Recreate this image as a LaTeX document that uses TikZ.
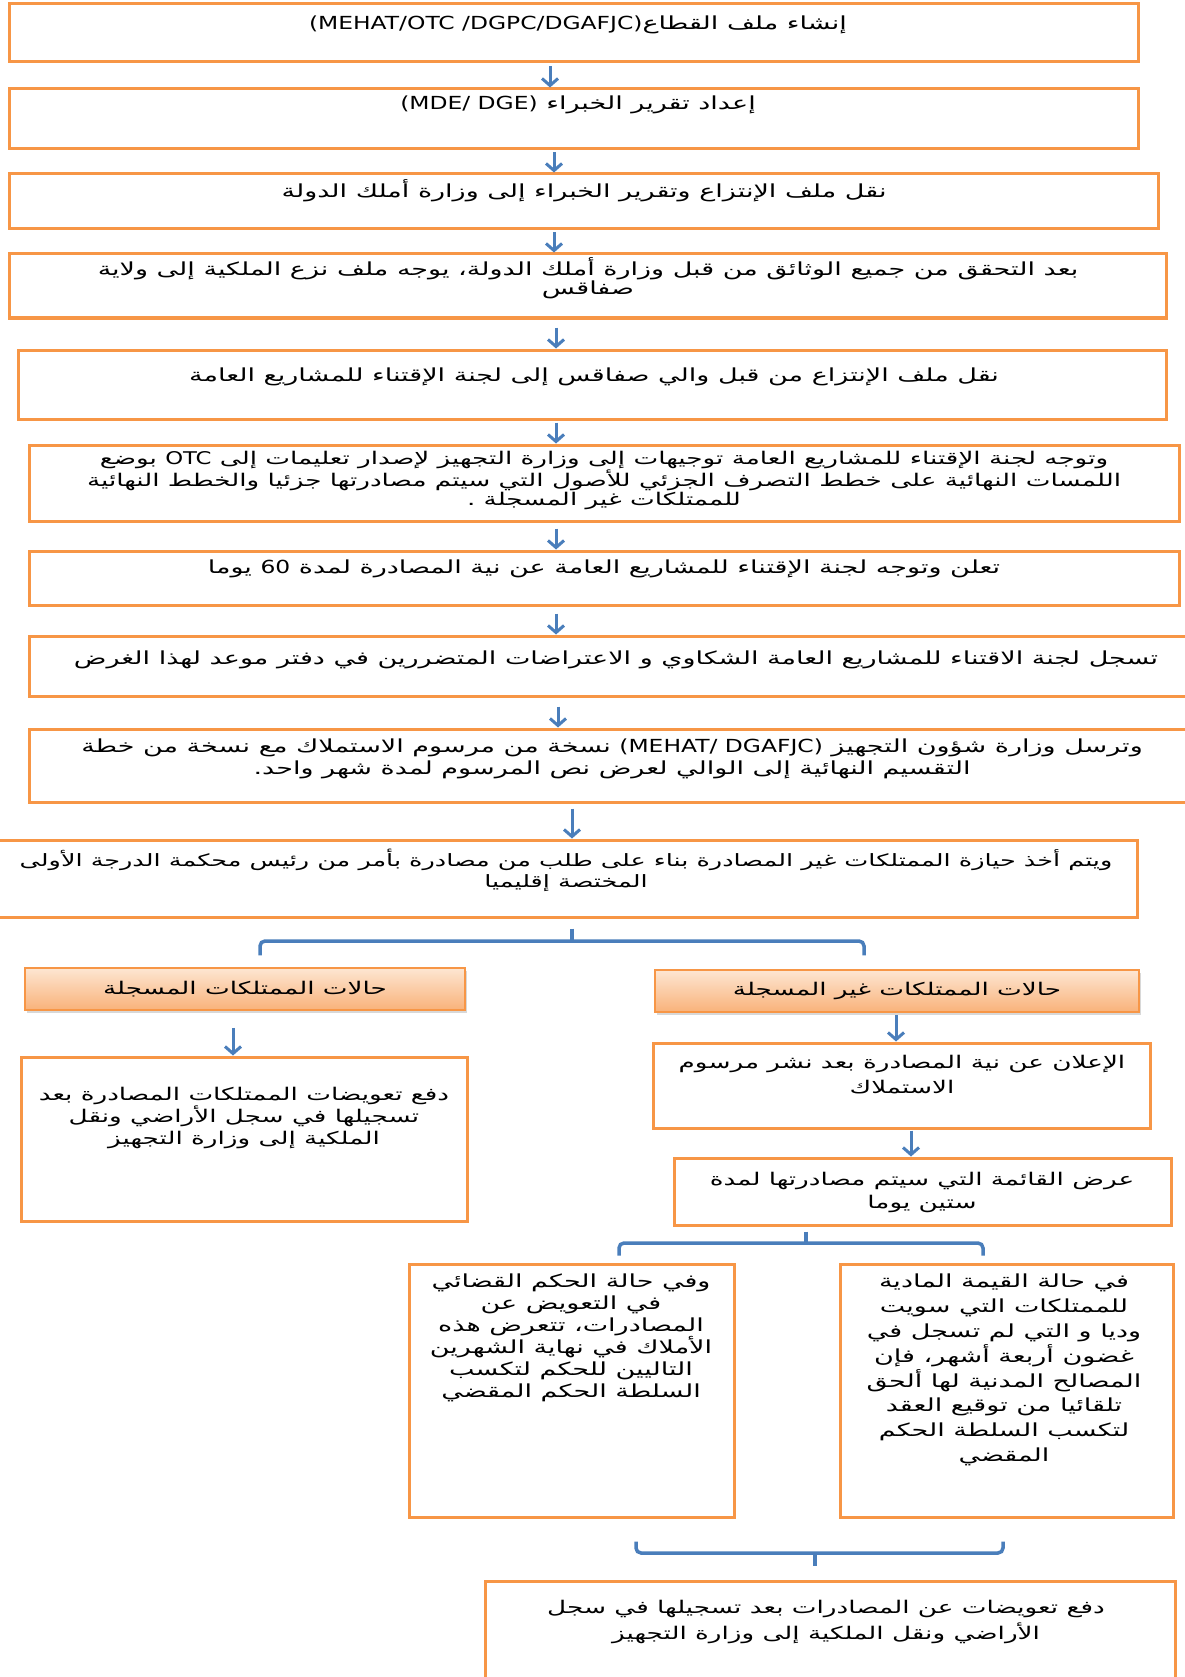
\documentclass[tikz,border=0pt]{standalone}
\usepackage{fontspec}
\TeXXeTstate=1
\newfontfamily\arabicfont[Script=Arabic,FakeStretch=1.5]{DejaVu Sans}
\newfontfamily\latfont[FakeStretch=1.3]{DejaVu Sans}
\usetikzlibrary{arrows.meta,shadows}
\definecolor{orng}{HTML}{F79646}
\definecolor{blu}{HTML}{4A7EBB}
\definecolor{hdtop}{HTML}{FDE6D2}
\definecolor{hdbot}{HTML}{F9B27A}
\newcommand\arl[1]{\beginR #1\endR}
\newcommand\lat[1]{\beginL{\latfont #1}\endL}
\begin{document}
\begin{tikzpicture}[x=1pt,y=-1pt,
  box/.style={draw=orng, line width=3pt, rectangle, inner sep=0pt},
  hdr/.style={draw=orng, line width=1.5pt, rectangle, top color=hdtop, bottom color=hdbot, inner sep=0pt,
     drop shadow={shadow xshift=2pt,shadow yshift=-3pt,opacity=0.3}},
  tx/.style={font=\arabicfont\fontsize{18}{19.5}\selectfont, align=center, inner sep=0pt, text=black},
  txb/.style={font=\arabicfont\fontsize{17.5}{22}\selectfont, align=center, inner sep=0pt, text=black},
  arr/.style={draw=blu, line width=3pt, -{Straight Barb[length=7pt,width=16pt]}},
  brc/.style={draw=blu, line width=3.5pt, rounded corners=5pt}]
\fill[white] (0,0) rectangle (1184,1677);
\useasboundingbox (0,0) rectangle (1184,1677);

% main column boxes
\node[box, minimum width=1129pt, minimum height=58pt] (b1) at (573.5,33) {};
\node[box, minimum width=1129pt, minimum height=60pt] (b2) at (573.5,119) {};
\node[box, minimum width=1149pt, minimum height=55pt] (b3) at (583.5,201.5) {};
\node[box, minimum width=1157pt, minimum height=64pt] (b4) at (587.5,286) {};
\node[box, minimum width=1148pt, minimum height=69pt] (b5) at (592,384.5) {};
\node[box, minimum width=1150pt, minimum height=76pt] (b6) at (604,483) {};
\node[box, minimum width=1150pt, minimum height=54pt] (b7) at (604,578) {};
\node[box, minimum width=1166pt, minimum height=60pt] (b8) at (612,666) {};
\node[box, minimum width=1166pt, minimum height=73pt] (b9) at (612,765.5) {};
\node[box, minimum width=1140pt, minimum height=77pt] (b10) at (567,878.5) {};

% texts of main column
\node[tx] (t1) at (578,25) {\arl{إنشاء ملف القطاع\lat{(MEHAT/OTC /DGPC/DGAFJC)}}};
\node[tx] (t2) at (578,105) {\arl{إعداد تقرير الخبراء \lat{(MDE/ DGE)}}};
\node[tx] (t3) at (584,191) {\arl{نقل ملف الإنتزاع وتقرير الخبراء إلى وزارة أملك الدولة}};
\node[tx] (t4) at (588,278) {\arl{بعد التحقق من جميع الوثائق  من قبل وزارة أملك الدولة، يوجه ملف نزع الملكية إلى ولاية}\\\arl{صفاقس}};
\node[tx] (t5) at (594,377) {\arl{نقل ملف الإنتزاع من قبل والي صفاقس إلى لجنة الإقتناء للمشاريع العامة}};
\node[tx, font=\arabicfont\fontsize{17.5}{19}\selectfont] (t6) at (604,480) {\arl{وتوجه لجنة الإقتناء للمشاريع العامة توجيهات إلى وزارة التجهيز لإصدار تعليمات إلى \lat{OTC}{} بوضع}\\\arl{اللمسات النهائية على خطط التصرف الجزئي للأصول التي سيتم مصادرتها جزئيا والخطط النهائية}\\\arl{للممتلكات غير المسجلة .}};
\node[tx] (t7) at (604,569) {\arl{تعلن وتوجه لجنة الإقتناء للمشاريع العامة  عن نية المصادرة لمدة \lat{60}{} يوما}};
\node[tx] (t8) at (616,660) {\arl{تسجل لجنة الاقتناء للمشاريع العامة الشكاوي و الاعتراضات المتضررين في دفتر موعد لهذا الغرض}};
\node[tx, font=\arabicfont\fontsize{18}{22}\selectfont] (t9) at (612,759) {\arl{وترسل وزارة شؤون التجهيز \lat{(MEHAT/ DGAFJC)}{} نسخة من مرسوم الاستملاك مع نسخة من خطة}\\\arl{التقسيم النهائية إلى الوالي لعرض نص المرسوم لمدة شهر واحد.}};
\node[tx, font=\arabicfont\fontsize{17}{21}\selectfont] (t10) at (566,870) {\arl{ويتم أخذ حيازة الممتلكات غير المصادرة بناء على طلب من مصادرة بأمر من رئيس محكمة الدرجة الأولى}\\\arl{المختصة إقليميا}};

% arrows of main column
\draw[arr] ([xshift=-23.5pt,yshift=-3pt]b1.south) -- ([xshift=-23.5pt]b2.north);
\draw[arr] ([xshift=-19.5pt,yshift=-2pt]b2.south) -- ([xshift=-29.5pt]b3.north);
\draw[arr] ([xshift=-29.5pt,yshift=-2pt]b3.south) -- ([xshift=-33.5pt]b4.north);
\draw[arr] ([xshift=-31.5pt,yshift=-8pt]b4.south) -- ([xshift=-36pt]b5.north);
\draw[arr] ([xshift=-36pt,yshift=-2pt]b5.south) -- ([xshift=-48pt]b6.north);
\draw[arr] ([xshift=-48pt,yshift=-6pt]b6.south) -- ([xshift=-48pt]b7.north);
\draw[arr] ([xshift=-48pt,yshift=-7pt]b7.south) -- ([xshift=-56pt]b8.north);
\draw[arr] ([xshift=-54pt,yshift=-9pt]b8.south) -- ([xshift=-54pt]b9.north);
\draw[arr] ([xshift=-40pt,yshift=-5pt]b9.south) -- ([xshift=5pt]b10.north);

% headers
\node[hdr, minimum width=440pt, minimum height=42pt, txb, font=\arabicfont\fontsize{17.5}{21}\selectfont] (hL) at (245,989) {\arl{حالات الممتلكات المسجلة}};
\node[hdr, minimum width=484pt, minimum height=42pt, txb, font=\arabicfont\fontsize{17.5}{21}\selectfont] (hR) at (897,991) {\arl{حالات الممتلكات غير المسجلة}};

% brace 1
\coordinate (j1) at (572,941);
\draw[brc] ([xshift=15pt,yshift=12pt]hL.north) |- (j1) -| ([xshift=-33pt,yshift=14pt]hR.north);
\draw[brc] ([xshift=5pt,yshift=-10pt]b10.south) -- (j1);

% left branch
\node[box, minimum width=446pt, minimum height=164pt] (bL) at (244,1139) {};
\node[txb] (tL) at (244,1117.5) {\arl{دفع تعويضات الممتلكات المصادرة بعد}\\\arl{تسجيلها في سجل الأراضي ونقل}\\\arl{الملكية إلى وزارة التجهيز}};
\draw[arr] ([xshift=-12pt,yshift=-17pt]hL.south) -- ([xshift=-11pt]bL.north);

% right branch
\node[box, minimum width=497pt, minimum height=85pt] (r1) at (901.5,1085.5) {};
\node[txb, font=\arabicfont\fontsize{17.5}{25}\selectfont] (tr1) at (902,1075) {\arl{الإعلان عن نية المصادرة بعد نشر مرسوم}\\\arl{الاستملاك}};
\draw[arr] ([xshift=-1pt,yshift=-2pt]hR.south) -- ([xshift=-5.5pt]r1.north);

\node[box, minimum width=497pt, minimum height=67pt] (r2) at (922.5,1191.5) {};
\node[txb, font=\arabicfont\fontsize{17.5}{23}\selectfont] (tr2) at (922,1192) {\arl{عرض القائمة التي سيتم مصادرتها لمدة}\\\arl{ستين يوما}};
\draw[arr] ([xshift=9.5pt,yshift=-1pt]r1.south) -- ([xshift=-11.5pt]r2.north);

% brace 2
\node[box, minimum width=325pt, minimum height=253pt] (r3a) at (571.5,1390.5) {};
\node[box, minimum width=333pt, minimum height=253pt] (r3b) at (1006.5,1390.5) {};
\coordinate (j2) at (806,1243);
\draw[brc] ([xshift=47.5pt,yshift=7pt]r3a.north) |- (j2) -| ([xshift=-23.5pt,yshift=7pt]r3b.north);
\draw[brc] ([xshift=-116.5pt,yshift=-5pt]r2.south) -- (j2);

\node[txb, font=\arabicfont\fontsize{18}{22}\selectfont] (tr3a) at (571,1338) {\arl{وفي حالة الحكم القضائي}\\\arl{في التعويض عن}\\\arl{المصادرات، تتعرض هذه}\\\arl{الأملاك في نهاية الشهرين}\\\arl{التاليين للحكم لتكسب}\\\arl{السلطة الحكم المقضي}};
\node[txb, font=\arabicfont\fontsize{18}{24.8}\selectfont] (tr3b) at (1004,1370) {\arl{في حالة القيمة المادية}\\\arl{للممتلكات التي سويت}\\\arl{وديا و التي لم تسجل في}\\\arl{غضون أربعة أشهر، فإن}\\\arl{المصالح المدنية لها ألحق}\\\arl{تلقائيا من توقيع العقد}\\\arl{لتكسب السلطة الحكم}\\\arl{المقضي}};

% brace 3 and final box
\node[box, minimum width=690pt, minimum height=110pt] (fin) at (830,1636) {};
\node[txb, font=\arabicfont\fontsize{17.5}{26}\selectfont] (tfin) at (826,1622) {\arl{دفع تعويضات عن المصادرات بعد تسجيلها في سجل}\\\arl{الأراضي ونقل الملكية إلى  وزارة التجهيز}};
\coordinate (j3) at (815,1553);
\draw[brc] ([xshift=64.5pt,yshift=-23pt]r3a.south) |- (j3) -| ([xshift=-3.5pt,yshift=-23pt]r3b.south);
\draw[brc] (j3) -- ([xshift=-15pt,yshift=14pt]fin.north);
\end{tikzpicture}
\end{document}
